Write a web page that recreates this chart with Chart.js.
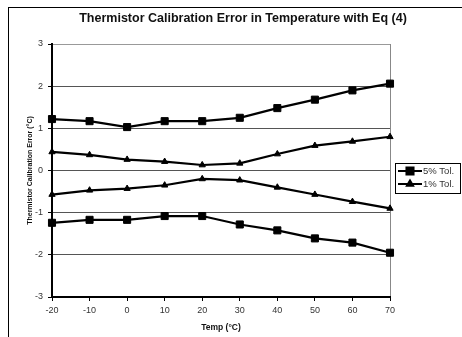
<!DOCTYPE html>
<html>
<head>
<meta charset="utf-8">
<script src="https://cdn.jsdelivr.net/npm/chart.js@4"></script>
<style>
html,body{margin:0;padding:0;background:#fff;}
#wrap{width:462px;height:337px;position:relative;}
</style>
</head>
<body>
<div id="wrap"><canvas id="c" width="462" height="337"></canvas></div>
<script>
const chartTitle = 'Thermistor Calibration Error in Temperature with Eq (4)';
const xTitle = 'Temp (\u00B0C)';
const yTitle = 'Thermistor Calibration Error (\u00B0C)';
const temps = [-20, -10, 0, 10, 20, 30, 40, 50, 60, 70];
const tol5Upper = [1.22, 1.17, 1.03, 1.17, 1.17, 1.25, 1.48, 1.68, 1.90, 2.06];
const tol1Upper = [0.44, 0.37, 0.26, 0.21, 0.13, 0.17, 0.39, 0.59, 0.69, 0.80];
const tol1Lower = [-0.57, -0.47, -0.43, -0.35, -0.20, -0.23, -0.40, -0.57, -0.74, -0.90];
const tol5Lower = [-1.24, -1.17, -1.17, -1.08, -1.08, -1.28, -1.42, -1.61, -1.71, -1.95];
const legendLabels = ['5% Tol.', '1% Tol.'];
const xTicks = [-20, -10, 0, 10, 20, 30, 40, 50, 60, 70];
const yTicks = [-3, -2, -1, 0, 1, 2, 3];

const FONT = "'Liberation Sans', Arial, sans-serif";

function mk(label, vals, style, radius) {
  return {
    label: label,
    data: temps.map((t, i) => ({x: t, y: vals[i]})),
    borderColor: '#000',
    backgroundColor: '#000',
    borderWidth: 2.2,
    pointStyle: style,
    pointRadius: radius,
    pointBorderWidth: 1,
    pointBackgroundColor: '#000',
    pointBorderColor: '#000',
    tension: 0,
    clip: false
  };
}

const decor = {
  id: 'decor',
  beforeDraw(chart) {
    const ctx = chart.ctx;
    ctx.save();
    ctx.fillStyle = '#fff';
    ctx.fillRect(0, 0, chart.width, chart.height);
    ctx.strokeStyle = '#000';
    ctx.lineWidth = 1;
    ctx.strokeRect(8.5, 7.5, 470, 350);
    ctx.restore();
  },
  afterDraw(chart) {
    const ctx = chart.ctx;
    ctx.save();
    // title
    ctx.fillStyle = '#111';
    ctx.font = 'bold 12.5px ' + FONT;
    ctx.textAlign = 'center';
    ctx.textBaseline = 'middle';
    ctx.fillText(chartTitle, 243, 19);
    // legend
    const lx = 395.5, ly = 163.5, lw = 65, lh = 30;
    ctx.strokeStyle = '#000';
    ctx.lineWidth = 1;
    ctx.strokeRect(lx, ly, lw, lh);
    const rows = [
      {label: legendLabels[0], ds: chart.data.datasets[0], y: 171},
      {label: legendLabels[1], ds: chart.data.datasets[1], y: 184}
    ];
    rows.forEach(r => {
      ctx.strokeStyle = '#000';
      ctx.lineWidth = 2;
      ctx.beginPath();
      ctx.moveTo(398, r.y);
      ctx.lineTo(422, r.y);
      ctx.stroke();
      ctx.fillStyle = '#000';
      Chart.helpers.drawPoint(ctx, {pointStyle: r.ds.pointStyle, radius: r.ds.pointRadius, borderWidth: 1}, 410, r.y);
      ctx.fillStyle = '#333';
      ctx.font = '9.5px ' + FONT;
      ctx.textAlign = 'left';
      ctx.textBaseline = 'middle';
      ctx.fillText(r.label, 423, r.y + 0.5);
    });
    ctx.restore();
  }
};

new Chart(document.getElementById('c'), {
  type: 'line',
  data: {
    datasets: [
      mk('5% Tol.', tol5Upper, 'rect', 5),
      mk('1% Tol.', tol1Upper, 'triangle', 3.6),
      mk('1% Tol. (lower)', tol1Lower, 'triangle', 3.6),
      mk('5% Tol. (lower)', tol5Lower, 'rect', 5)
    ]
  },
  options: {
    responsive: false,
    animation: false,
    devicePixelRatio: 1,
    layout: {padding: {left: 8, right: 72, top: 44, bottom: 0}},
    plugins: {legend: {display: false}, title: {display: false}, tooltip: {enabled: false}},
    scales: {
      x: {
        type: 'linear',
        min: -20, max: 70,
        afterBuildTicks(s) { s.ticks = xTicks.map(v => ({value: v})); },
        afterFit(s) { s.height = 40; },
        grid: {
          drawOnChartArea: true,
          color: c => (c.tick && c.tick.value === 70) ? '#888' : 'rgba(0,0,0,0)',
          tickColor: '#000',
          tickLength: 4,
          lineWidth: 1
        },
        border: {display: true, color: '#000', width: 2},
        ticks: {color: '#333', font: {family: FONT, size: 9}, padding: 4, maxRotation: 0, autoSkip: false},
        title: {display: true, text: xTitle, color: '#111', font: {family: FONT, size: 8.5, weight: 'bold'}, padding: {top: 0, bottom: 4}}
      },
      y: {
        type: 'linear',
        min: -3, max: 3,
        afterBuildTicks(s) { s.ticks = yTicks.map(v => ({value: v})); },
        afterFit(s) { s.width = 44; },
        grid: {color: c => (c.tick && c.tick.value === 3) ? '#999' : '#555', tickColor: '#000', tickLength: 4, lineWidth: 1},
        border: {display: true, color: '#000', width: 2},
        ticks: {color: '#333', font: {family: FONT, size: 9}, padding: 5},
        title: {display: true, text: yTitle, color: '#111', font: {family: FONT, size: 7, weight: 'bold'}, padding: {top: 18, bottom: 0}}
      }
    }
  },
  plugins: [decor]
});
</script>
</body>
</html>
